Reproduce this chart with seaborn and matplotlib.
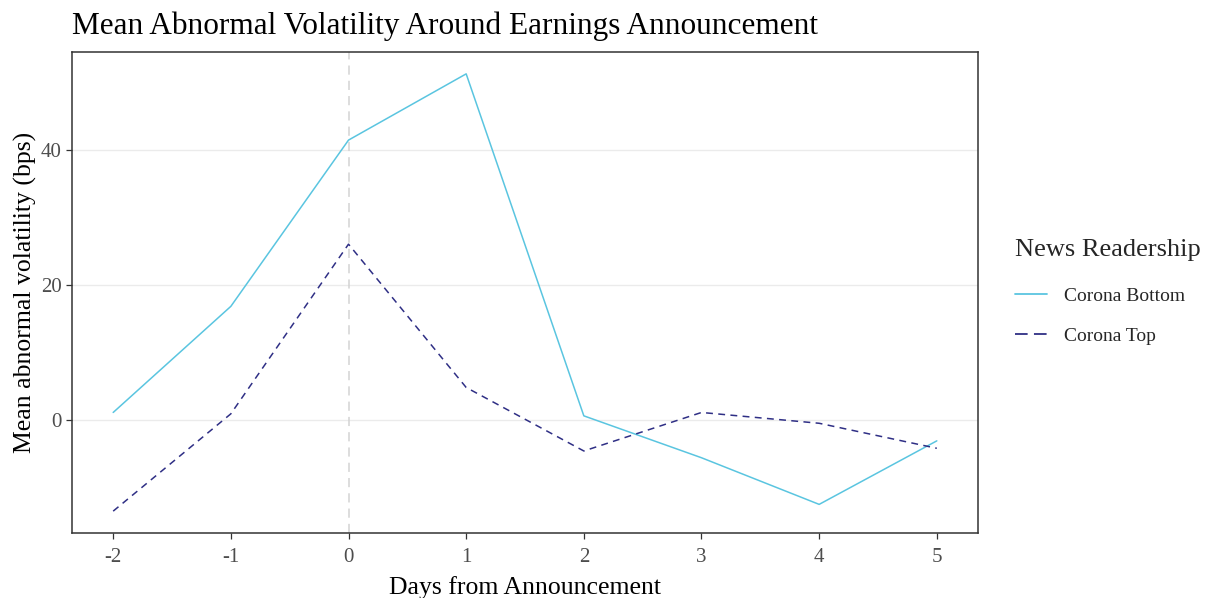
import numpy as np
import pandas as pd
import matplotlib
matplotlib.use("Agg")
import matplotlib.pyplot as plt
import seaborn as sns

days = [-2, -1, 0, 1, 2, 3, 4, 5]
corona_bottom = [1.1, 16.8, 41.4, 51.2, 0.6, -5.6, -12.5, -3.1]
corona_top = [-13.5, 0.9, 26.0, 4.8, -4.6, 1.1, -0.5, -4.2]
groups = ["Corona Bottom", "Corona Top"]
y_ticks = [0, 20, 40]

df = pd.DataFrame({
    "day": days * 2,
    "vol": corona_bottom + corona_top,
    "group": [groups[0]] * len(days) + [groups[1]] * len(days),
})

sns.set_theme(style="white")
plt.rcParams["font.family"] = ["Liberation Serif", "DejaVu Serif"]

palette = {"Corona Bottom": "#5AC5E0", "Corona Top": "#2F2F85"}
dashes = {"Corona Bottom": "", "Corona Top": (4.5, 3.5)}

fig = plt.figure(figsize=(12.11, 5.98), dpi=100)
ax = fig.add_axes([72 / 1211, 1 - 533 / 598, (978 - 72) / 1211, (533 - 52) / 598])

# horizontal major grid only
for yt in y_ticks:
    ax.axhline(yt, color="#EBEBEB", lw=1.0, zorder=0)
ax.axvline(0, color="#D3D3D3", lw=1.1, ls=(0, (6, 4)), zorder=1)

sns.lineplot(data=df, x="day", y="vol", hue="group", style="group",
             palette=palette, dashes=dashes, lw=1.1, ax=ax, zorder=3)

lo = min(corona_bottom + corona_top)
hi = max(corona_bottom + corona_top)
pad = 0.05 * (hi - lo)
ax.set_ylim(lo - pad, hi + pad)
ax.set_xlim(-2 - 0.05 * 7, 5 + 0.05 * 7)
ax.set_xticks(days)
ax.set_xticklabels([str(d) for d in days])
ax.set_yticks(y_ticks)

for s in ax.spines.values():
    s.set_color("#333333")
    s.set_linewidth(1.1)
ax.tick_params(axis="both", which="major", length=4.5, width=0.9, color="#333333",
               labelsize=15, labelcolor="#4D4D4D", direction="out",
               bottom=True, left=True)
ax.tick_params(axis="x", pad=6.5)
ax.tick_params(axis="y", pad=3)

ax.set_xlabel("Days from Announcement", fontsize=18.5, color="black", labelpad=6)
ax.set_ylabel("Mean abnormal volatility (bps)", fontsize=18.5, color="black", labelpad=3)
ax.set_title("Mean Abnormal Volatility Around Earnings Announcement",
             fontsize=22.5, loc="left", x=0.0, y=1.0, pad=13, color="black")

handles, labels = ax.get_legend_handles_labels()
for h in handles:
    h.set_linewidth(1.3)
handles[1].set_dashes((7, 3.5))
leg = ax.legend(handles, labels, title="News Readership", loc="upper left",
                frameon=False, fontsize=14, title_fontsize=19,
                handlelength=1.65, handletextpad=0.9,
                labelspacing=1.15, borderaxespad=0)
leg.set_bbox_to_anchor((1.032, 0.628), transform=ax.transAxes)
leg._legend_box.align = "left"
leg._legend_box.sep = 19

fig.savefig("out.png", dpi=100, facecolor="white")
